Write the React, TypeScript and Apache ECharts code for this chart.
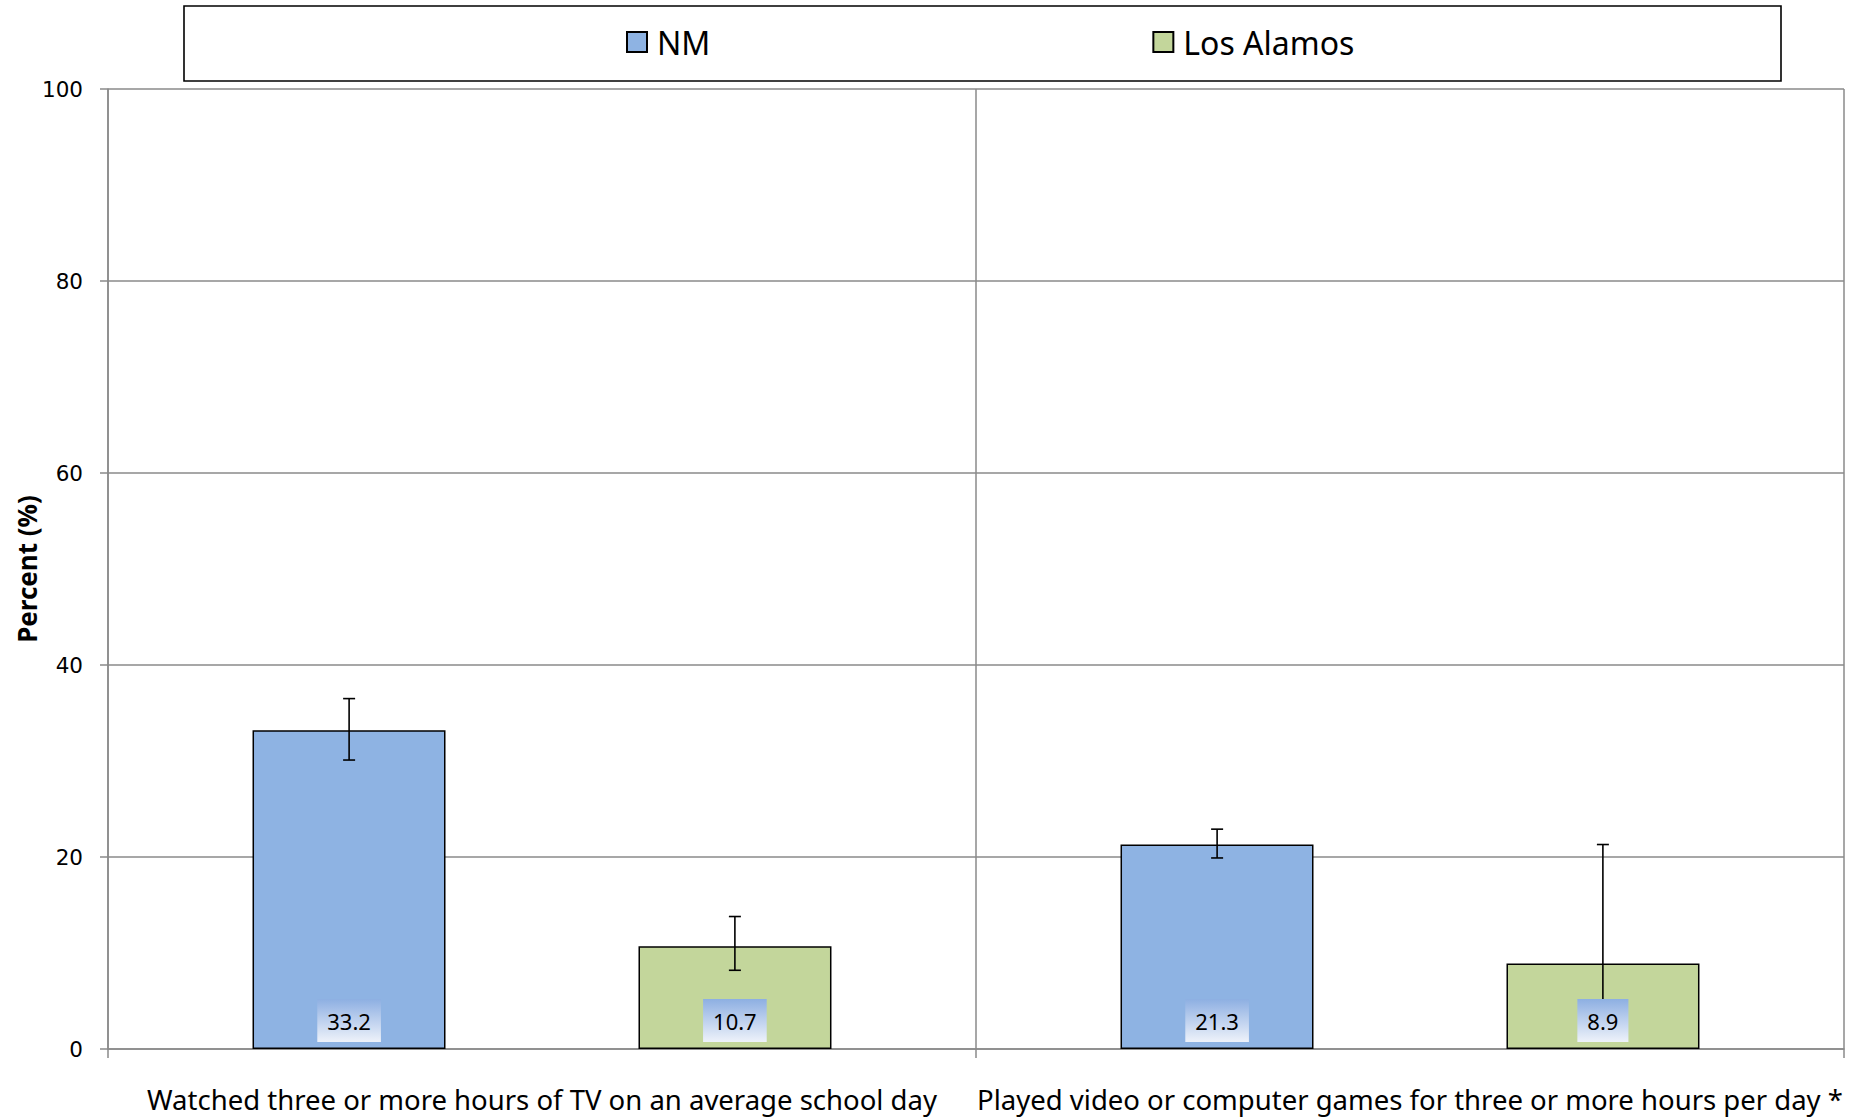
import React, { useEffect, useRef } from "react";
import * as echarts from "echarts";

const categories = [
  "Watched three or more hours of TV on an average school day",
  "Played video or computer games for three or more hours per day *",
];
const seriesNames = ["NM", "Los Alamos"];
const nmValues = [33.2, 21.3];
const laValues = [10.7, 8.9];
const nmLower = [30.1, 19.9];
const nmUpper = [36.5, 22.9];
const laLower = [8.2, 1.5];
const laUpper = [13.8, 21.3];
const yTicks = { min: 0, max: 100, interval: 20 };

const NM_COLOR = "#8EB3E3";
const LA_COLOR = "#C3D69B";
const GRID_COLOR = "#8A8A8A";

function makeErrorSeries(name: string, values: number[], lo: number[], hi: number[], side: number) {
  return {
    type: "custom",
    name: name + " err",
    z: 5,
    silent: true,
    data: values.map((v, i) => [i, lo[i], hi[i], v]),
    renderItem: (params: any, api: any) => {
      const ci = api.value(0);
      const l = api.value(1);
      const h = api.value(2);
      const v = api.value(3);
      const band = api.size([1, 0])[0];
      const off = side * band * (2 / 9);
      const pHi = api.coord([ci, h]);
      const pLo = api.coord([ci, l]);
      const p0 = api.coord([ci, 0]);
      const x = pHi[0] + off;
      const cap = 6;
      const grad = new echarts.graphic.LinearGradient(0, 0, 0, 1, [
        { offset: 0, color: "#8DAFE2" },
        { offset: 1, color: "#EEF2FA" },
      ]);
      return {
        type: "group",
        children: [
          { type: "line", shape: { x1: x, y1: pHi[1], x2: x, y2: pLo[1] }, style: { stroke: "#000", lineWidth: 1.6 } },
          { type: "line", shape: { x1: x - cap, y1: pHi[1], x2: x + cap, y2: pHi[1] }, style: { stroke: "#000", lineWidth: 1.6 } },
          { type: "line", shape: { x1: x - cap, y1: pLo[1], x2: x + cap, y2: pLo[1] }, style: { stroke: "#000", lineWidth: 1.6 } },
          {
            type: "text",
            x: x,
            y: p0[1] - 7,
            style: {
              text: v.toFixed(1),
              align: "center",
              verticalAlign: "bottom",
              fill: "#000",
              fontSize: 22,
              fontFamily: "Noto Sans",
              lineHeight: 26,
              backgroundColor: grad,
              padding: [9, 10, 8, 10],
            },
          },
        ],
      };
    },
  };
}

export default function App() {
  const ref = useRef<HTMLDivElement>(null);
  useEffect(() => {
    document.body.style.margin = "0";
    const chart = echarts.init(ref.current!, null, { renderer: "svg" });
    chart.setOption({
      animation: false,
      backgroundColor: "#fff",
      grid: { left: 108, right: 14, top: 89, bottom: 70, containLabel: false, outerBoundsMode: "none" },
      legend: {
        data: seriesNames,
        top: 21,
        left: 621,
        itemGap: 442,
        itemWidth: 20,
        itemHeight: 20,
        icon: "rect",
        textStyle: { fontSize: 32, fontFamily: "Noto Sans", color: "#000", padding: [0, 0, 0, 5] },
      },
      graphic: [
        {
          type: "rect",
          shape: { x: 184, y: 6, width: 1597, height: 75 },
          style: { fill: "none", stroke: "#000", lineWidth: 1.6 },
          z: 10,
        },
      ],
      xAxis: {
        type: "category",
        data: categories,
        axisLine: { lineStyle: { color: GRID_COLOR, width: 1.5 } },
        axisTick: { show: true, length: 9, lineStyle: { color: GRID_COLOR, width: 1.5 } },
        splitLine: { show: true, lineStyle: { color: GRID_COLOR, width: 1.5 } },
        axisLabel: { interval: 0, margin: 36, fontSize: 27.5, fontFamily: "Noto Sans", color: "#000" },
      },
      yAxis: {
        type: "value",
        min: yTicks.min,
        max: yTicks.max,
        interval: yTicks.interval,
        name: "Percent (%)",
        nameLocation: "middle",
        nameGap: 68,
        nameMoveOverlap: false,
        nameTextStyle: { fontSize: 26, fontWeight: "bold", fontFamily: "Noto Sans", color: "#000" },
        axisLine: { show: true, lineStyle: { color: GRID_COLOR, width: 1.5 } },
        axisTick: { show: true, length: 8, lineStyle: { color: GRID_COLOR, width: 1.5 } },
        splitLine: { show: true, lineStyle: { color: GRID_COLOR, width: 1.5 } },
        axisLabel: { margin: 25, fontSize: 21.5, fontFamily: "DejaVu Sans", color: "#000" },
      },
      series: [
        {
          type: "bar",
          name: seriesNames[0],
          data: nmValues,
          barGap: "100%",
          barCategoryGap: "33.3%",
          itemStyle: { color: NM_COLOR, borderColor: "#000", borderWidth: 1.5 },
          z: 2,
        },
        {
          type: "bar",
          name: seriesNames[1],
          data: laValues,
          barGap: "100%",
          barCategoryGap: "33.3%",
          itemStyle: { color: LA_COLOR, borderColor: "#000", borderWidth: 1.5 },
          z: 2,
        },
        makeErrorSeries(seriesNames[0], nmValues, nmLower, nmUpper, -1),
        makeErrorSeries(seriesNames[1], laValues, laLower, laUpper, 1),
      ],
    });
    return () => chart.dispose();
  }, []);
  return <div ref={ref} style={{ width: 1858, height: 1119 }} />;
}
